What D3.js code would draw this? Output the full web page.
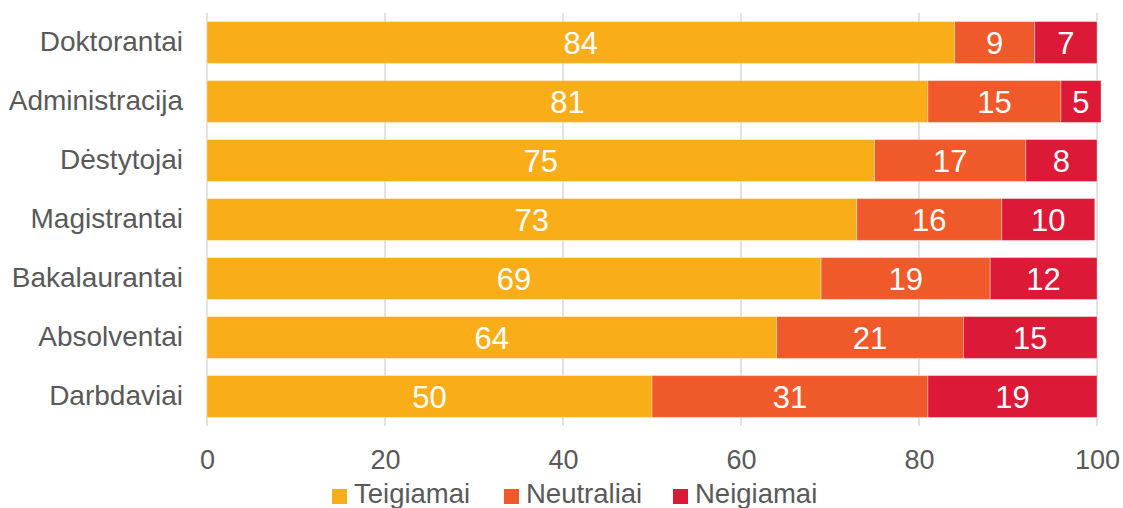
<!DOCTYPE html>
<html>
<head>
<meta charset="utf-8">
<script src="https://cdn.jsdelivr.net/npm/d3@7"></script>
<style>
  body { margin: 0; background: #fff; }
  svg { display: block; font-family: "Liberation Sans", Arial, sans-serif; }
</style>
</head>
<body>
<div class="chart"></div>
<script>
const categories = ['Doktorantai', 'Administracija', 'Dėstytojai', 'Magistrantai', 'Bakalaurantai', 'Absolventai', 'Darbdaviai']
const seriesNames = ['Teigiamai', 'Neutraliai', 'Neigiamai']
const teigiamai = [84, 81, 75, 73, 69, 64, 50]
const neutraliai = [9, 14.95, 17, 16.3, 19, 21, 31]
const neigiamai = [7, 4.5, 8, 10.45, 12, 15, 19]
const xTicks = [0, 20, 40, 60, 80, 100]
const colors = ['#F9AE19', '#F05A2A', '#DC1937']

const width = 1123
const height = 508
const margin = { top: 13, right: 26, bottom: 82, left: 207 }
const innerW = width - margin.left - margin.right
const innerH = height - margin.top - margin.bottom

// table for stacking
const table = categories.map((c, i) => ({
  cat: c,
  Teigiamai: teigiamai[i],
  Neutraliai: neutraliai[i],
  Neigiamai: neigiamai[i]
}))
const stacked = d3.stack().keys(seriesNames)(table)

const svg = d3.select('.chart')
  .append('svg')
  .attr('width', width)
  .attr('height', height)

const g = svg.append('g')
  .attr('transform', `translate(${margin.left}, ${margin.top})`)

const xScale = d3.scaleLinear().domain([0, 100]).range([0, innerW])
const yScale = d3.scaleBand().domain(categories).range([0, innerH]).paddingInner(0.29).paddingOuter(0.145)

// gridlines
g.append('g')
  .selectAll('line')
  .data(xTicks)
  .enter()
  .append('line')
  .attr('x1', d => xScale(d))
  .attr('x2', d => xScale(d))
  .attr('y1', 0)
  .attr('y2', innerH)
  .attr('stroke', '#d9d9d9')
  .attr('stroke-width', 1.5)

// x axis labels
const xAxis = g.append('g')
  .attr('transform', `translate(0, ${innerH})`)
  .call(d3.axisBottom(xScale).tickValues(xTicks).tickSize(0).tickPadding(24).tickFormat(d3.format('d')))
xAxis.select('.domain').remove()
xAxis.selectAll('text')
  .attr('font-size', 27)
  .attr('font-family', '"Liberation Sans", Arial, sans-serif')
  .attr('fill', '#595959')

// y axis labels
const yAxis = g.append('g')
  .call(d3.axisLeft(yScale).tickSize(0).tickPadding(24))
yAxis.select('.domain').remove()
yAxis.selectAll('text')
  .attr('font-size', 28)
  .attr('font-family', '"Liberation Sans", Arial, sans-serif')
  .attr('fill', '#595959')

// bars
const layers = g.selectAll('.layer')
  .data(stacked)
  .enter()
  .append('g')
  .attr('class', 'layer')
  .attr('fill', (d, i) => colors[i])

layers.selectAll('rect')
  .data(d => d)
  .enter()
  .append('rect')
  .attr('x', d => xScale(d[0]))
  .attr('y', d => yScale(d.data.cat))
  .attr('width', d => xScale(d[1]) - xScale(d[0]))
  .attr('height', yScale.bandwidth())
  .attr('stroke', '#fff')
  .attr('stroke-opacity', 0.35)
  .attr('stroke-width', 1)

layers.selectAll('text')
  .data(d => d)
  .enter()
  .append('text')
  .attr('x', d => xScale((d[0] + d[1]) / 2))
  .attr('y', d => yScale(d.data.cat) + yScale.bandwidth() / 2)
  .attr('dy', '0.36em')
  .attr('text-anchor', 'middle')
  .attr('font-size', 31)
  .attr('fill', '#fff')
  .text(d => Math.round(d[1] - d[0]))

// legend
const legendX = [332, 504, 673]
const legend = svg.append('g')
  .selectAll('g')
  .data(seriesNames)
  .enter()
  .append('g')
  .attr('transform', (d, i) => `translate(${legendX[i]}, 489)`)
legend.append('rect')
  .attr('width', 15)
  .attr('height', 15)
  .attr('fill', (d, i) => colors[i])
legend.append('text')
  .attr('x', 22)
  .attr('y', 14)
  .attr('font-size', 27.5)
  .attr('fill', '#595959')
  .text(d => d)
</script>
</body>
</html>
